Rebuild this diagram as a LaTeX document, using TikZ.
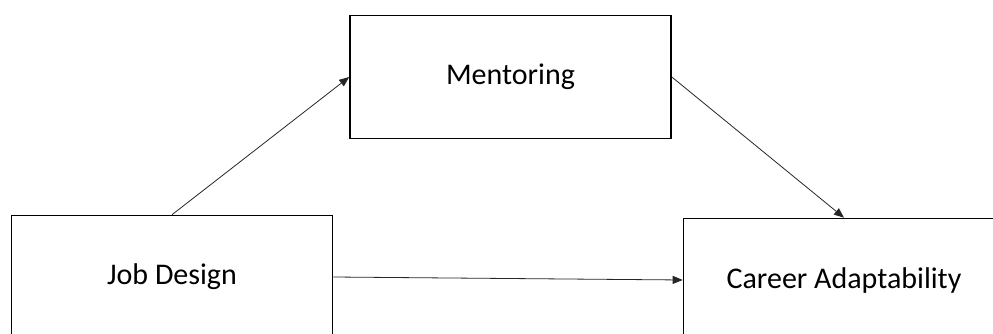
\documentclass[tikz,border=0pt]{standalone}
\usepackage{fontspec}
\setmainfont{Carlito}
\usetikzlibrary{arrows.meta}
\begin{document}
\begin{tikzpicture}[x=1pt,y=-1pt,
    box/.style={draw,line width=1.6pt,minimum width=321pt,minimum height=123pt,inner sep=0pt,font=\fontsize{30}{36}\selectfont},
    link/.style={draw=black!85,line width=0.8pt,-{Triangle[length=10pt,width=8pt]}}]
\clip (0,0) rectangle (993,334);
\useasboundingbox (0,0) rectangle (993,334);
% the three variables
\node[box] (mentoring) at (510.5,77) {Mentoring};
\node[box] (jobdesign) at (172,277) {Job Design};
\node[box] (career) at (844,280) {Career Adaptability};
% paths
\draw[link] (jobdesign.north) -- (mentoring.west);
\draw[link] (mentoring.east) -- (career.north);
\draw[link] (jobdesign.east) -- (career.west);
\end{tikzpicture}
\end{document}
